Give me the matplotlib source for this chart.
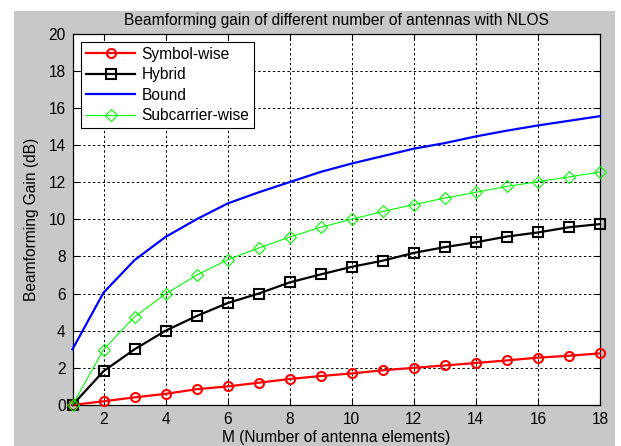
import numpy as np
import matplotlib
matplotlib.use("Agg")
import matplotlib.pyplot as plt
from matplotlib.patches import Rectangle

plt.rcParams['font.family'] = ['Liberation Sans', 'DejaVu Sans']

# number of antenna elements
M = np.arange(1, 19)

# beamforming gain in dB for each scheme
symbol_wise = [0, 0.2, 0.41, 0.6, 0.85, 1.0, 1.2, 1.4, 1.56, 1.7, 1.87, 2.0, 2.13, 2.26, 2.4, 2.55, 2.65, 2.78]
hybrid = [0, 1.82, 3.0, 4.0, 4.79, 5.49, 6.0, 6.6, 7.03, 7.44, 7.77, 8.19, 8.5, 8.76, 9.07, 9.29, 9.57, 9.74]
bound = [3.0, 6.05, 7.8, 9.05, 10.0, 10.85, 11.45, 12.0, 12.55, 13.0, 13.4, 13.8, 14.1, 14.46, 14.77, 15.05, 15.3, 15.55]
subcarrier_wise = [0, 2.98, 4.75, 5.98, 6.99, 7.82, 8.45, 9.04, 9.57, 10.0, 10.42, 10.79, 11.14, 11.45, 11.77, 12.02, 12.28, 12.54]

labels = ['Symbol-wise', 'Hybrid', 'Bound', 'Subcarrier-wise']
fs = 11.2

W, H = 621, 446
fig = plt.figure(figsize=(W / 100, H / 100), dpi=100)
fig.patch.set_facecolor('white')
# grey figure panel, leaving a white margin on the top and left
fig.patches.append(Rectangle((14 / W, 0), (615 - 14) / W, 1 - 11 / H,
                             transform=fig.transFigure, facecolor='#c8c8c8',
                             edgecolor='none', zorder=-10))

ax_l, ax_r, ax_t, ax_b = 72.5, 600, 33.5, 405
ax = fig.add_axes([ax_l / W, 1 - ax_b / H, (ax_r - ax_l) / W, (ax_b - ax_t) / H])
ax.set_facecolor('white')

ax.plot(M, symbol_wise, color='red', lw=1.6, marker='o', ms=6.5, mfc='none', mec='red', mew=1.5,
        label=labels[0], clip_on=False, zorder=3)
ax.plot(M, hybrid, color='black', lw=1.6, marker='s', ms=6.8, mfc='none', mec='black', mew=1.5,
        label=labels[1], clip_on=False, zorder=3)
ax.plot(M, bound, color='blue', lw=1.6, label=labels[2], clip_on=False, zorder=3)
ax.plot(M, subcarrier_wise, color='#00ff00', lw=0.8, marker='D', ms=6, mfc='none', mec='#00ff00', mew=0.8,
        label=labels[3], clip_on=False, zorder=3)

ax.set_xlim(1, 18)
ax.set_ylim(0, 20)
ax.set_xticks(np.arange(2, 19, 2))
ax.set_yticks(np.arange(0, 21, 2))
ax.grid(True, color='black', linestyle=(0, (2.5, 2.5)), lw=0.7)
ax.tick_params(direction='in', length=4, width=0.8, top=True, right=True, labelsize=fs, pad=5,
               colors='black')
for s in ax.spines.values():
    s.set_linewidth(0.9)

ax.set_title('Beamforming gain of different number of antennas with NLOS', fontsize=fs, pad=6)
ax.set_xlabel('M (Number of antenna elements)', fontsize=fs, labelpad=2)
ax.set_ylabel('Beamforming Gain (dB)', fontsize=fs, labelpad=7)

leg = ax.legend(loc='upper left', bbox_to_anchor=((81 - ax_l) / (ax_r - ax_l), 1 - (42 - ax_t) / (ax_b - ax_t)),
                borderaxespad=0, fancybox=False, framealpha=1, edgecolor='black', fontsize=fs,
                handlelength=3.2, handletextpad=0.4, labelspacing=0.35, borderpad=0.3)
leg.get_frame().set_linewidth(0.8)

fig.savefig('out.png', dpi=100)
